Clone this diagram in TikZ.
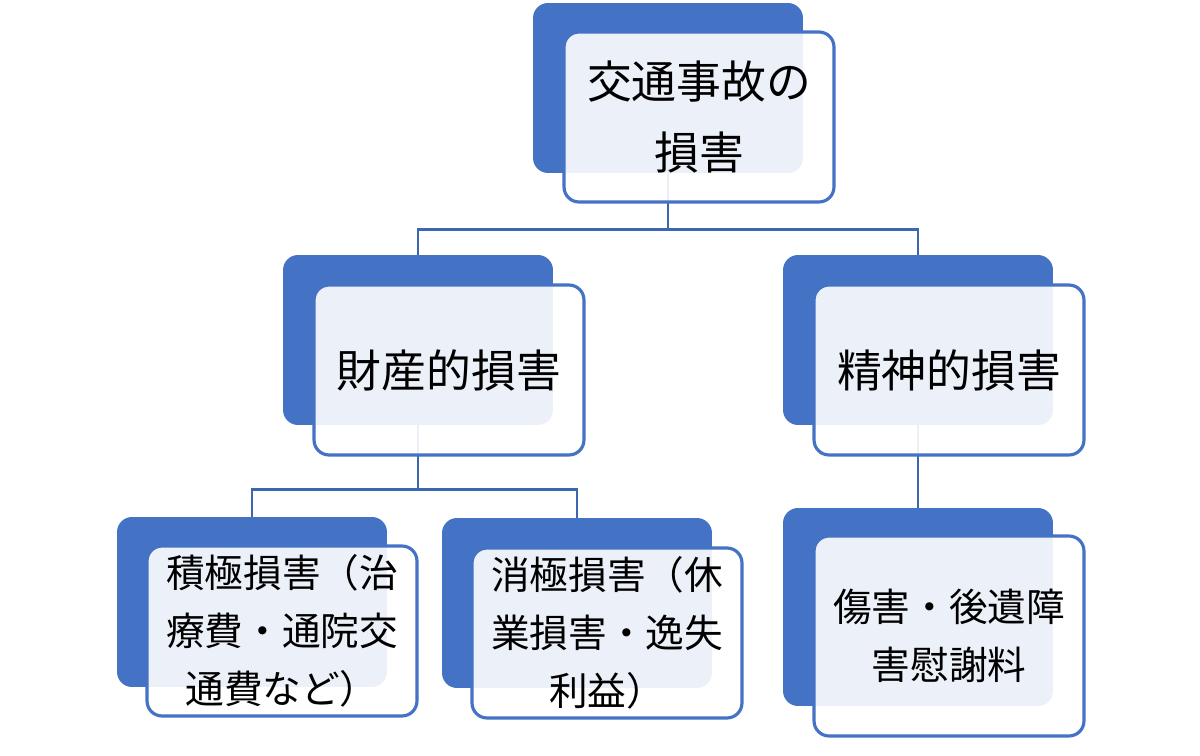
\documentclass[tikz,border=0pt]{standalone}
\usepackage{fontspec}
\newfontfamily\jpfont{Noto Sans CJK JP}
\definecolor{boxblue}{HTML}{4472C4}
\definecolor{linkblue}{HTML}{3D66B0}
\begin{document}
\begin{tikzpicture}[x=0.02cm, y=-0.02cm,
    backbox/.style = {fill=boxblue, draw=none, rounded corners=0.3cm,
        minimum width=5.4cm, minimum height=3.4cm},
    frontbox/.style = {fill=white, fill opacity=0.9, text opacity=1,
        draw=boxblue, line width=1.8pt, rounded corners=0.3cm,
        minimum width=5.4cm, minimum height=3.4cm, inner sep=2pt,
        align=center, font=\jpfont\fontsize{25.5}{40}\selectfont},
    smalltext/.style = {font=\jpfont\fontsize{22}{33}\selectfont},
    link/.style = {draw=linkblue, line width=1.6pt}]
    \useasboundingbox (0,0) rectangle (1200,756);
    % back boxes
    \node[backbox] (top-b) at (668,88) {};
    \node[backbox] (prop-b) at (418,340) {};
    \node[backbox] (ment-b) at (918,340) {};
    \node[backbox] (pos-b) at (252,602) {};
    \node[backbox] (neg-b) at (577,603) {};
    \node[backbox, minimum height=3.96cm] (cons-b) at (918,607) {};
    % connectors
    \draw[link] (top-b.south) -- ++(0,56) coordinate (j1) -| (prop-b.north);
    \draw[link] (j1) -| (ment-b.north);
    \draw[link] (prop-b.south) -- ++(0,64) coordinate (j2) -| (pos-b.north);
    \draw[link] (j2) -| (neg-b.north);
    \draw[link] (ment-b.south) -- (cons-b.north);
    % front boxes
    \node[frontbox] (top) at (699,117) {交通事故の\\損害};
    \node[frontbox] (prop) at (449,370) {財産的損害};
    \node[frontbox] (ment) at (949,370) {精神的損害};
    \node[frontbox, smalltext] (pos) at (282,631) {積極損害（治\\療費・通院交\\通費など）};
    \node[frontbox, smalltext] (neg) at (607,633) {消極損害（休\\業損害・逸失\\利益）};
    \node[frontbox, smalltext, minimum height=4cm] (cons) at (949,636) {傷害・後遺障\\害慰謝料};
\end{tikzpicture}
\end{document}
